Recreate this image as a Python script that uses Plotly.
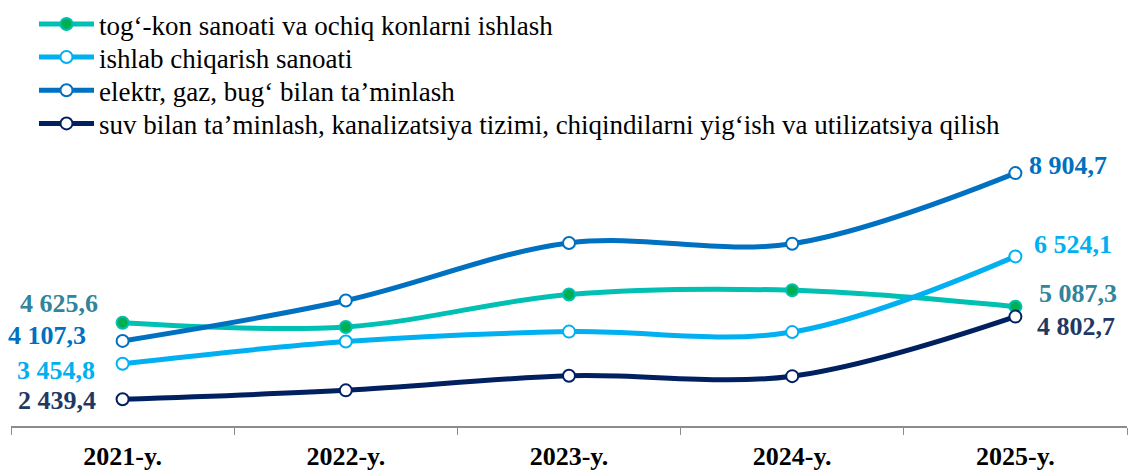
import plotly.graph_objects as go

# Data
years = ["2021-y.", "2022-y.", "2023-y.", "2024-y.", "2025-y."]

tog_kon = [4625.6, 4507, 5433, 5555, 5087.3]
ishlab_chiqarish = [3454.8, 4091, 4374, 4360, 6524.1]
elektr_gaz = [4107.3, 5262, 6906, 6886, 8904.7]
suv_kanalizatsiya = [2439.4, 2694, 3111, 3100, 4802.7]

names = [
    "tog‘-kon sanoati va ochiq konlarni ishlash",
    "ishlab chiqarish sanoati",
    "elektr, gaz, bug‘ bilan ta’minlash",
    "suv bilan ta’minlash, kanalizatsiya tizimi, chiqindilarni yig‘ish va utilizatsiya qilish",
]

FONT = "Liberation Serif"

# style per series: line colour, marker fill, label colour, (left shift x,y), (right shift x,y)
styles = [
    dict(line="#00BFB3", fill="#00B050", label="#31849B", left=(-23, 19), right=(22, 13)),
    dict(line="#00B0F0", fill="white", label="#00B0F0", left=(-26, -7), right=(17, 12)),
    dict(line="#0070C0", fill="white", label="#0070C0", left=(-35, 5), right=(12, 8)),
    dict(line="#002060", fill="white", label="#1F3864", left=(-25, -1), right=(20, -10)),
]

# legend row centres, in paper fraction of the plot height
legend_rows = [1 - 20.5 / 426, 1 - 54 / 426, 1 - 87.5 / 426, 1 - 121 / 426]


def fmt(v):
    return f"{v:,.1f}".replace(",", " ").replace(".", ",")


fig = go.Figure()
annotations = []
legends = {}
series = [tog_kon, ishlab_chiqarish, elektr_gaz, suv_kanalizatsiya]
for i, (name, vals, st) in enumerate(zip(names, series, styles)):
    leg = "legend" if i == 0 else f"legend{i + 1}"
    legends[leg] = dict(
        x=0.0206, y=legend_rows[i], xanchor="left", yanchor="middle",
        font=dict(family=FONT, size=27, color="black"),
        bgcolor="rgba(0,0,0,0)", itemwidth=55,
    )
    fig.add_trace(go.Scatter(
        x=years, y=vals, name=name, mode="lines+markers", legend=leg,
        line=dict(color=st["line"], width=5, shape="spline", smoothing=1),
        marker=dict(size=12, color=st["fill"], line=dict(color=st["line"], width=2)),
    ))
    # value labels at the first and last points
    for idx, side, anchor in [(0, "left", "right"), (len(vals) - 1, "right", "left")]:
        dx, dy = st[side]
        annotations.append(dict(
            x=years[idx], y=vals[idx], xref="x", yref="y", text=fmt(vals[idx]),
            showarrow=False, xanchor=anchor, yanchor="middle", xshift=dx, yshift=dy,
            font=dict(family=FONT, size=26, color=st["label"], weight="bold"),
        ))

fig.update_layout(
    width=1128, height=470,
    margin=dict(l=11, r=1, t=0, b=44),
    paper_bgcolor="white", plot_bgcolor="white",
    font=dict(family=FONT, size=26, color="black"),
    showlegend=True,
    annotations=annotations,
    **legends,
)
fig.update_xaxes(
    showline=True, linecolor="#8C8C8C", linewidth=1.5,
    ticks="outside", tickson="boundaries", ticklen=7, tickcolor="#8C8C8C",
    showgrid=False, range=[-0.5, 4.5], tickangle=0, ticklabelstandoff=6,
    tickfont=dict(family=FONT, size=26, color="black", weight="bold"),
)
fig.update_yaxes(visible=False, range=[1675, 13739], showgrid=False, zeroline=False)

fig.write_html(
    "out.html",
    config={"displayModeBar": False},
    post_script="document.body.style.margin='0';",
)
